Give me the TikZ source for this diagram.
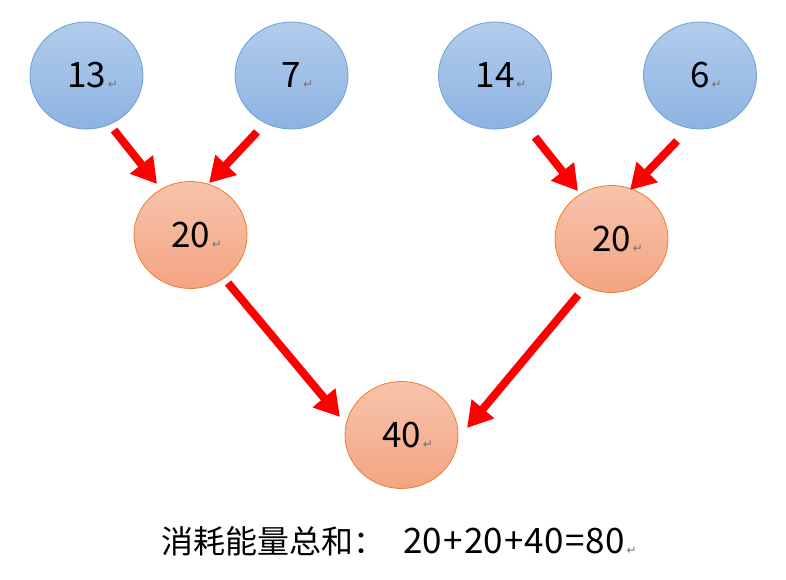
\documentclass[tikz,border=0pt]{standalone}
\usepackage{fontspec}
\setmainfont{Noto Sans CJK SC}
\newfontfamily\markfont{DejaVu Sans}
\usetikzlibrary{shapes.geometric,arrows.meta}
\definecolor{bluetop}{HTML}{B2CCEB}
\definecolor{bluebot}{HTML}{8DB3E2}
\definecolor{blueedge}{HTML}{6A9FD8}
\definecolor{orgtop}{HTML}{F7C4AC}
\definecolor{orgbot}{HTML}{F4A482}
\definecolor{orgedge}{HTML}{ED7D31}
\newcommand{\retmark}{\rlap{\hspace{2pt}\raisebox{-1pt}{\color{black!55}\markfont\fontsize{12pt}{12pt}\selectfont ↵}}}
\newcommand{\opsp}[1]{\kern1.3pt#1\kern1.3pt}
\tikzset{
  bubble/.style={ellipse, inner sep=0pt, minimum width=113pt, minimum height=107pt,
    line width=0.8pt, font=\fontsize{35pt}{40pt}\selectfont, text=black},
  bluebub/.style={bubble, draw=blueedge, top color=bluetop, bottom color=bluebot},
  orgbub/.style={bubble, draw=orgedge, top color=orgtop, bottom color=orgbot},
  redarrow/.style={draw=red, line width=8pt, -{Triangle[width=28pt,length=25pt]}, red}
}
\begin{document}
\begin{tikzpicture}[x=1pt,y=-1pt]
\useasboundingbox (0,0) rectangle (786,580);
\node[bluebub] (n13) at (86.5,75.5) {13\retmark};
\node[bluebub] (n7)  at (291.5,75.5) {7\retmark};
\node[bluebub] (n14) at (495,75.5) {14\retmark};
\node[bluebub] (n6)  at (700,75.5) {6\retmark};
\node[orgbub] (n20a) at (190.5,235) {20\retmark};
\node[orgbub] (n20b) at (611.5,239) {20\retmark};
\node[orgbub] (n40)  at (401.5,435) {40\retmark};

\draw[redarrow] ([shift={(27.5,54.5)}]n13.center) -- ([shift={(-33.5,-51)}]n20a.center);
\draw[redarrow] ([shift={(-34.5,56.5)}]n7.center) -- ([shift={(18.5,-52)}]n20a.center);
\draw[redarrow] ([shift={(40,61.5)}]n14.center) -- ([shift={(-33.5,-48)}]n20b.center);
\draw[redarrow] ([shift={(-23,65.5)}]n6.center) -- ([shift={(18.5,-49)}]n20b.center);
\draw[redarrow] ([shift={(37.5,48)}]n20a.center) -- ([shift={(-61.5,-18)}]n40.center);
\draw[redarrow] ([shift={(-33.5,56)}]n20b.center) -- ([shift={(65.5,-7)}]n40.center);

\node[anchor=base west, inner sep=0pt] (sum) at (161,553)
  {{\fontsize{32pt}{36pt}\selectfont 消耗能量总和：}\hspace{18pt}{\fontsize{35pt}{40pt}\selectfont 20\opsp{+}20\opsp{+}40\opsp{=}80}\retmark};
\end{tikzpicture}
\end{document}
